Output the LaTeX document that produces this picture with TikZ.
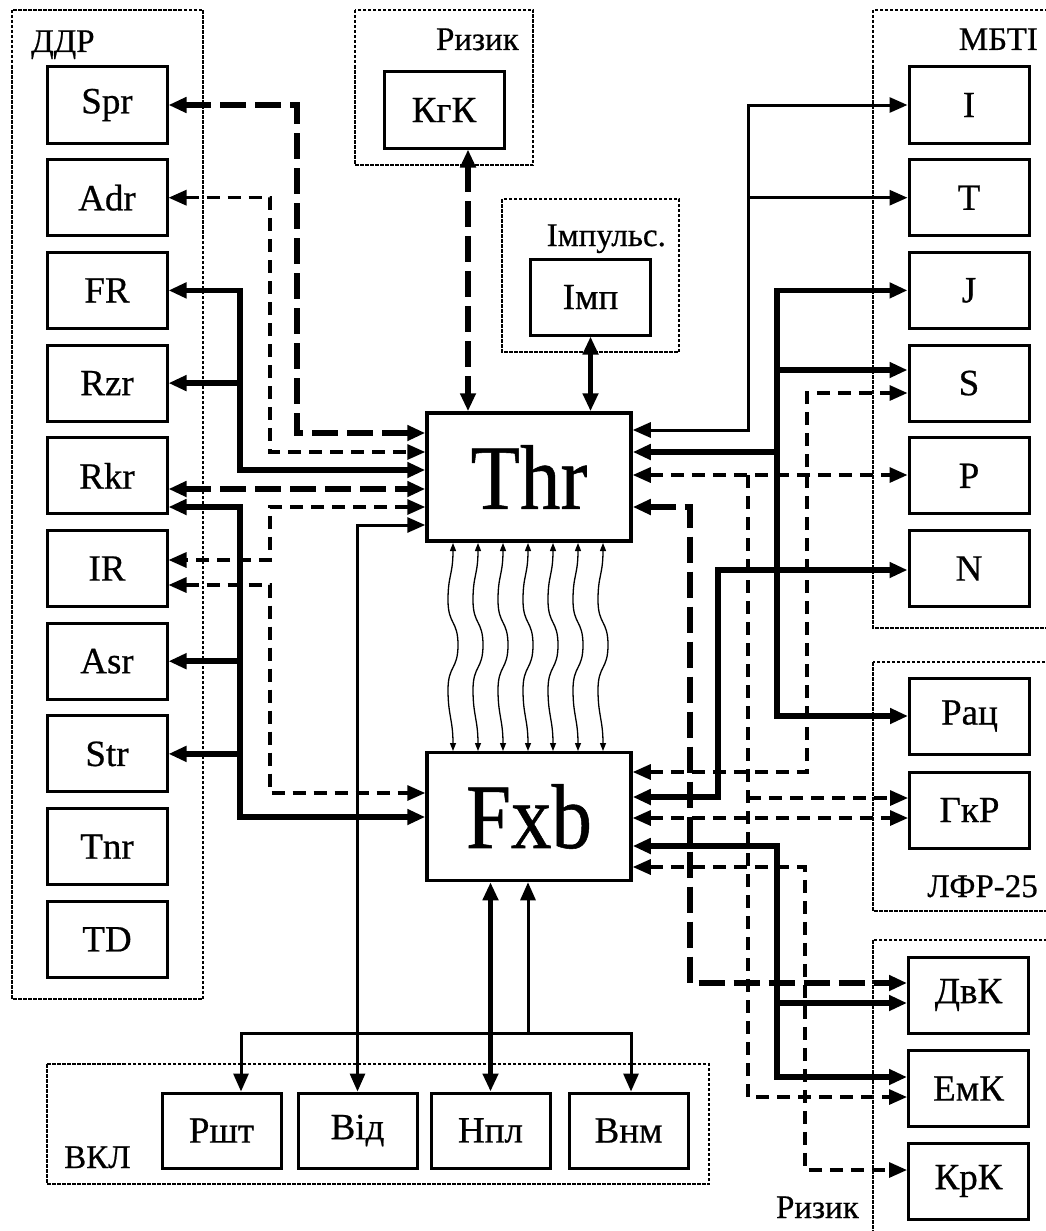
\documentclass[tikz,border=0pt]{standalone}
\usepackage{fontspec}
\usepackage{graphicx}
\setmainfont[FakeBold=0.6]{Liberation Serif}
\usetikzlibrary{arrows.meta}
\begin{document}
\begin{tikzpicture}[x=1pt,y=-1pt, line join=miter,
  bx/.style={draw, fill=white, line width=3pt, minimum width=120pt, minimum height=76pt, inner sep=0pt, font=\fontsize{37}{37}\selectfont},
  bigbx/.style={draw, fill=white, line width=3.5pt, minimum width=204pt, minimum height=128pt, inner sep=0pt, font=\fontsize{92}{92}\selectfont},
  grp/.style={line width=2pt, dash pattern=on 3.5pt off 1.5pt},
  glab/.style={font=\fontsize{33}{33}\selectfont, inner sep=0pt},
  thk/.style={line width=5.5pt},
  thn/.style={line width=3pt},
  tkd/.style={line width=5.5pt, dash pattern=on 26pt off 9pt},
  tnd/.style={line width=3.2pt, dash pattern=on 13pt off 8pt},
  ar/.style={-{Triangle[length=18pt,width=15pt]}},
  ra/.style={{Triangle[length=18pt,width=15pt]}-},
  dar/.style={{Triangle[length=18pt,width=15pt]}-{Triangle[length=18pt,width=15pt]}},
  wv/.style={line width=1.3pt, {Triangle[length=8pt,width=6pt]}-{Triangle[length=8pt,width=6pt]}},
]
\useasboundingbox (0,0) rectangle (1046,1231);
\fill[white] (0,0) rectangle (1046,1231);

% groups
\draw[grp] (12,10) rectangle (203,999);
\draw[grp] (355,10) rectangle (533,165);
\draw[grp] (502,199) rectangle (679,352);
\draw[grp] (873,10) rectangle (1070,628);
\draw[grp] (873,662) rectangle (1070,911);
\draw[grp] (873,940) rectangle (1070,1260);
\draw[grp] (47,1064) rectangle (709,1184);

\node[glab, anchor=base west] (lddr) at (31,52) {ДДР};
\node[glab, anchor=base east] (lriz1) at (519,50) {Ризик};
\node[glab, anchor=base east] (limp) at (666,246) {Імпульс.};
\node[glab, anchor=base east] (lmbti) at (1038,50) {МБТІ};
\node[glab, anchor=base east] (llfr) at (1038,897) {ЛФР-25};
\node[glab, anchor=base east] (lriz2) at (859,1218) {Ризик};
\node[glab, anchor=base west] (lvkl) at (64,1168) {ВКЛ};

% nodes
\node[bx] (Spr) at (107,105) {Spr};
\node[bx] (Adr) at (107,197.7) {Adr};
\node[bx] (FR) at (107,290.4) {FR};
\node[bx] (Rzr) at (107,383.1) {Rzr};
\node[bx] (Rkr) at (107,475.8) {Rkr};
\node[bx] (IR) at (107,568.5) {IR};
\node[bx] (Asr) at (107,661.2) {Asr};
\node[bx] (Str) at (107,753.9) {Str};
\node[bx] (Tnr) at (107,846.6) {Tnr};
\node[bx] (TD) at (107,939.3) {TD};

\node[bx] (I) at (969,105) {I};
\node[bx] (T) at (969,197.7) {T};
\node[bx] (J) at (969,290.4) {J};
\node[bx] (S) at (969,383.1) {S};
\node[bx] (P) at (969,475.8) {P};
\node[bx] (N) at (969,568.5) {N};
\node[bx] (Rac) at (969.5,716) {Рац};
\node[bx] (GkR) at (969.5,810) {ГкР};
\node[bx] (DvK) at (968.5,995) {ДвК};
\node[bx] (EmK) at (968.5,1088.5) {ЕмК};
\node[bx] (KrK) at (968.5,1181) {КрК};

\node[bx] (KgK) at (444,110) {КгК};
\node[bx] (Imp) at (590.5,297) {Імп};

\node[bigbx] (Thr) at (529,477) {\scalebox{0.88}[1]{Thr}};
\node[bigbx] (Fxb) at (529,816.5) {\scalebox{0.88}[1]{Fxb}};

\node[bx, minimum width=119pt, minimum height=75pt] (Rsht) at (221.5,1130.5) {Ршт};
\node[bx, minimum width=119pt, minimum height=75pt] (Vid) at (357.5,1130.5) {Від};
\node[bx, minimum width=119pt, minimum height=75pt] (Npl) at (490.5,1130.5) {Нпл};
\node[bx, minimum width=119pt, minimum height=75pt] (Vnm) at (628.5,1130.5) {Внм};

% left connectors
\draw[tkd,dar] (Spr.east) -| (297,433) -- (Thr.west |- 0,433);
\draw[tnd,dar] (Adr.east) -| (270,452) -- (Thr.west |- 0,452);
\draw[thk,dar] (FR.east) -| (240,470) -- (Thr.west |- 0,470);
\draw[thk,ar] (240,383.1) -- (Rzr.east);
\draw[tkd,dar] (Rkr.east |- 0,489) -- (Thr.west |- 0,489);
\draw[thk,dar] (Rkr.east |- 0,507) -| (240,817) -- (Fxb.west |- 0,817);
\draw[thk,ar] (240,661.2) -- (Asr.east);
\draw[thk,ar] (240,753.9) -- (Str.east);
\draw[tnd,dar] (Thr.west |- 0,507) -| (270,560) -- (IR.east |- 0,560);
\draw[tnd,dar] (IR.east |- 0,585) -| (270,793) -- (Fxb.west |- 0,793);
\draw[thn,dar] (Thr.west |- 0,525) -| (Vid.north);

% top connectors
\draw[tkd,dar] (KgK.south -| 468,0) -- (Thr.north -| 468,0);
\draw[thk,dar] (Imp.south) -- (Imp.south |- Thr.north);

% wavy links
\foreach \X in {453,478,503,528,553,578,603}{
  \draw[wv] (\X,543) .. controls (\X,575) and (\X-5,575) .. (\X-5,600)
     .. controls (\X-5,625) and (\X+5,620) .. (\X+5,645)
     .. controls (\X+5,670) and (\X-5,665) .. (\X-5,690)
     .. controls (\X-5,715) and (\X,720) .. (\X,751);
}

% right connectors
\draw[thn,dar] (Thr.east |- 0,430) -| (748,105) -- (I.west);
\draw[thn,ar] (748,197.7) -- (T.west);
\draw[thk,ra] (Thr.east |- 0,452) -- (777,452);
\draw[thk,dar] (J.west) -- (777,290.4) -- (777,716) -- (Rac.west);
\draw[thk,ar] (777,370) -- (S.west |- 0,370);
\draw[tnd,dar] (Thr.east |- 0,475) -- (P.west |- 0,475);
\draw[tnd,ar] (748,475) |- (EmK.west |- 0,1097);
\draw[tnd,ar] (748,798) -- (GkR.west |- 0,798);
\draw[tkd,dar] (Thr.east |- 0,507) -| (690,983) -- (DvK.west |- 0,983);
\draw[tnd,dar] (Fxb.east |- 0,772) -| (807,393) -- (S.west |- 0,393);
\draw[thk,dar] (Fxb.east |- 0,797) -| (718,570) -- (N.west |- 0,570);
\draw[tnd,dar] (Fxb.east |- 0,818) -- (GkR.west |- 0,818);
\draw[thk,dar] (Fxb.east |- 0,846) -| (777,1077) -- (EmK.west |- 0,1077);
\draw[thk,ar] (777,1003) -- (DvK.west |- 0,1003);
\draw[tnd,dar] (Fxb.east |- 0,867) -| (805,1170) -- (KrK.west |- 0,1170);

% bottom connectors
\draw[thk,dar] (Npl.north) -- (Npl.north |- Fxb.south);
\draw[thn,dar] (Rsht.north -| 241,0) |- (631,1033) -- (Vnm.north -| 631,0);
\draw[thn,ar] (528,1033) -- (Fxb.south -| 528,0);
\end{tikzpicture}
\end{document}
